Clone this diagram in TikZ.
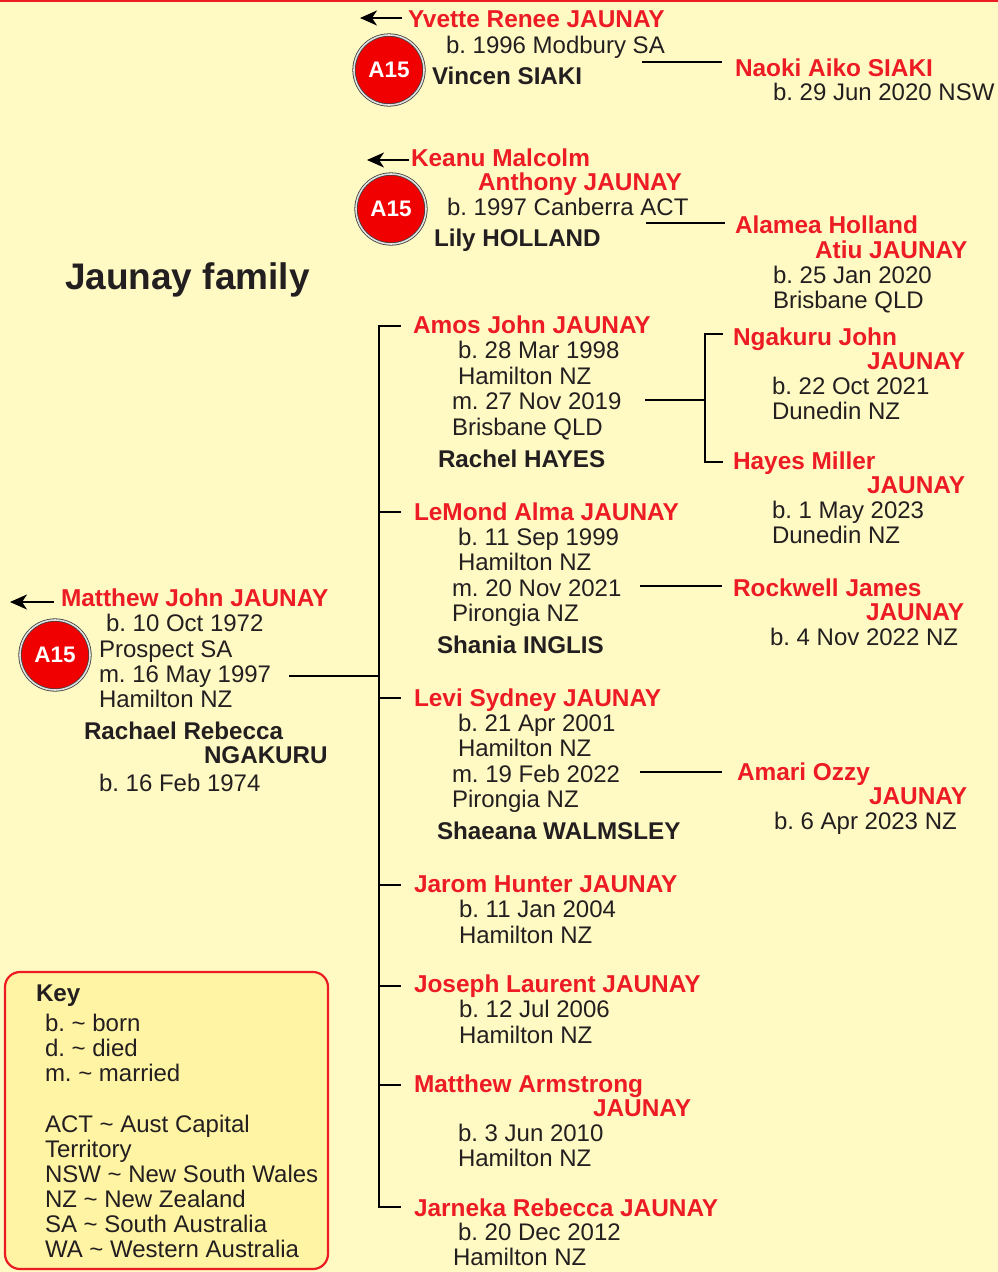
\documentclass[tikz,border=0pt]{standalone}
\usepackage{fontspec}
\setmainfont{Liberation Sans}
\usetikzlibrary{arrows.meta}
\definecolor{bgyel}{HTML}{FFFAC3}
\definecolor{keyfill}{HTML}{FFF4A3}
\definecolor{jred}{HTML}{ED1C24}
\definecolor{ink}{HTML}{231F20}
\definecolor{ballred}{HTML}{F00000}
\frenchspacing
\tikzset{
  base/.style={anchor=base west, inner sep=0pt, outer sep=0pt},
  tx/.style={base, text=ink, font=\fontsize{24}{25}\selectfont},
  nm/.style={base, text=jred, font=\fontsize{24.4}{25}\selectfont\bfseries},
  sp/.style={base, text=ink, font=\fontsize{24.2}{25}\selectfont\bfseries},
  conn/.style={draw=black, line width=2.4pt},
  backarrow/.style={draw=black, line width=2.2pt, -{Stealth[length=17pt,width=15pt,inset=5pt]}},
  ball/.style={circle, fill=ballred, draw=black!75, line width=0.8pt, double=gray!25, double distance=1.6pt,
    minimum size=70pt, inner sep=0pt, text=white, font=\fontsize{22.5}{22}\selectfont\bfseries},
}
\begin{document}
\begin{tikzpicture}[x=1pt,y=-1pt]
\useasboundingbox (0,0) rectangle (998,1272);
\fill[bgyel] (0,0) rectangle (998,1272);
\fill[jred] (0,0) rectangle (998,2.2);

% ---------- Yvette ----------
\coordinate (yarrS) at (402,18);
\coordinate (yarrE) at (360,18);
\draw[backarrow] (yarrS) -- (yarrE);
\node[ball] (yball) at (389,70) {A15};
\node[nm] (yv1) at (408,27) {Yvette Renee JAUNAY};
\node[tx] (yv2) at (446,53) {b. 1996 Modbury SA};
\node[sp] (yv3) at (432,84) {Vincen SIAKI};
\coordinate (ylineS) at (642,62);
\coordinate (ylineE) at (722,62);
\draw[conn] (ylineS) -- (ylineE);
\node[nm] (na1) at (735,76) {Naoki Aiko SIAKI};
\node[tx] (na2) at (773,100) {b. 29 Jun 2020 NSW};

% ---------- Keanu ----------
\coordinate (karrS) at (409,160);
\coordinate (karrE) at (367,160);
\draw[backarrow] (karrS) -- (karrE);
\node[ball] (kball) at (391,209) {A15};
\node[nm] (ke1) at (411,166) {Keanu Malcolm};
\node[nm] (ke2) at (478,190) {Anthony JAUNAY};
\node[tx] (ke3) at (447,215) {b. 1997 Canberra ACT};
\node[sp] (ke4) at (434,246) {Lily HOLLAND};
\coordinate (klineS) at (646,223);
\coordinate (klineE) at (725,223);
\draw[conn] (klineS) -- (klineE);
\node[nm] (al1) at (735,233) {Alamea Holland};
\node[nm] (al2) at (815,258) {Atiu JAUNAY};
\node[tx] (al3) at (773,283) {b. 25 Jan 2020};
\node[tx] (al4) at (773,308) {Brisbane QLD};

% ---------- Title ----------
\node[base, text=ink, font=\fontsize{37}{38}\selectfont\bfseries] (title) at (65,289) {Jaunay family};

% ---------- Matthew John ----------
\coordinate (marrS) at (54,602);
\coordinate (marrE) at (10,602);
\draw[backarrow] (marrS) -- (marrE);
\node[ball] (mball) at (55,655) {A15};
\node[nm] (mj1) at (61,606) {Matthew John JAUNAY};
\node[tx] (mj2) at (106,631) {b. 10 Oct 1972};
\node[tx] (mj3) at (99,657) {Prospect SA};
\node[tx] (mj4) at (99,682) {m. 16 May 1997};
\node[tx] (mj5) at (99,707) {Hamilton NZ};
\node[sp] (rr1) at (84,739) {Rachael Rebecca};
\node[sp] (rr2) at (204,763) {NGAKURU};
\node[tx] (rr3) at (99,791) {b. 16 Feb 1974};
\coordinate (mlineS) at (289,676);
\coordinate (mlineE) at (379,676);
\draw[conn] (mlineS) -- (mlineE);

% ---------- children bracket ----------
\coordinate (brTop) at (401,326);
\coordinate (brBot) at (401,1207);
\draw[conn] (brTop) -| (379,1207) -- (brBot);
\foreach \yy in {512,698,885,986,1085} {
  \draw[conn] (379,\yy) -- (401,\yy);
}

% Amos
\node[nm] (am1) at (413,333) {Amos John JAUNAY};
\node[tx] (am2) at (458,358) {b. 28 Mar 1998};
\node[tx] (am3) at (458,384) {Hamilton NZ};
\node[tx] (am4) at (452,409) {m. 27 Nov 2019};
\node[tx] (am5) at (452,435) {Brisbane QLD};
\node[sp] (am6) at (438,467) {Rachel HAYES};
\coordinate (alineS) at (645,400);
\coordinate (alineE) at (705,400);
\draw[conn] (alineS) -- (alineE);
\coordinate (abTop) at (723,334);
\coordinate (abBot) at (723,462);
\draw[conn] (abTop) -| (705,462) -- (abBot);
\node[nm] (ng1) at (733,345) {Ngakuru John};
\node[nm] (ng2) at (867,369) {JAUNAY};
\node[tx] (ng3) at (772,394) {b. 22 Oct 2021};
\node[tx] (ng4) at (772,419) {Dunedin NZ};
\node[nm] (hm1) at (733,469) {Hayes Miller};
\node[nm] (hm2) at (867,493) {JAUNAY};
\node[tx] (hm3) at (772,518) {b. 1 May 2023};
\node[tx] (hm4) at (772,543) {Dunedin NZ};

% LeMond
\node[nm] (lm1) at (414,520) {LeMond Alma JAUNAY};
\node[tx] (lm2) at (458,545) {b. 11 Sep 1999};
\node[tx] (lm3) at (458,570) {Hamilton NZ};
\node[tx] (lm4) at (452,596) {m. 20 Nov 2021};
\node[tx] (lm5) at (452,621) {Pirongia NZ};
\node[sp] (lm6) at (437,653) {Shania INGLIS};
\coordinate (llineS) at (640,586);
\coordinate (llineE) at (722,586);
\draw[conn] (llineS) -- (llineE);
\node[nm] (rw1) at (733,596) {Rockwell James};
\node[nm] (rw2) at (866,620) {JAUNAY};
\node[tx] (rw3) at (770,645) {b. 4 Nov 2022 NZ};

% Levi
\node[nm] (lv1) at (414,706) {Levi Sydney JAUNAY};
\node[tx] (lv2) at (458,731) {b. 21 Apr 2001};
\node[tx] (lv3) at (458,756) {Hamilton NZ};
\node[tx] (lv4) at (452,782) {m. 19 Feb 2022};
\node[tx] (lv5) at (452,807) {Pirongia NZ};
\node[sp] (lv6) at (437,839) {Shaeana WALMSLEY};
\coordinate (vlineS) at (640,772);
\coordinate (vlineE) at (722,772);
\draw[conn] (vlineS) -- (vlineE);
\node[nm] (ao1) at (737,780) {Amari Ozzy};
\node[nm] (ao2) at (869,804) {JAUNAY};
\node[tx] (ao3) at (774,829) {b. 6 Apr 2023 NZ};

% Jarom
\node[nm] (jh1) at (414,892) {Jarom Hunter JAUNAY};
\node[tx] (jh2) at (459,917) {b. 11 Jan 2004};
\node[tx] (jh3) at (459,943) {Hamilton NZ};

% Joseph
\node[nm] (jl1) at (414,992) {Joseph Laurent JAUNAY};
\node[tx] (jl2) at (459,1017) {b. 12 Jul 2006};
\node[tx] (jl3) at (459,1043) {Hamilton NZ};

% Matthew Armstrong
\node[nm] (ma1) at (414,1092) {Matthew Armstrong};
\node[nm] (ma2) at (593,1116) {JAUNAY};
\node[tx] (ma3) at (458,1141) {b. 3 Jun 2010};
\node[tx] (ma4) at (458,1166) {Hamilton NZ};

% Jarneka
\node[nm] (jr1) at (414,1216) {Jarneka Rebecca JAUNAY};
\node[tx] (jr2) at (458,1240) {b. 20 Dec 2012};
\node[tx] (jr3) at (453,1265) {Hamilton NZ};

% ---------- Key ----------
\draw[jred, line width=2.2pt, fill=keyfill, rounded corners=15pt] (5,972) rectangle (328,1269);
\node[sp] (key0) at (36,1001) {Key};
\node[tx] (key1) at (45,1031) {b. \textasciitilde{} born};
\node[tx] (key2) at (45,1056) {d. \textasciitilde{} died};
\node[tx] (key3) at (45,1081) {m. \textasciitilde{} married};
\node[tx] (key4) at (45,1132) {ACT \textasciitilde{} Aust Capital};
\node[tx] (key5) at (45,1157) {Territory};
\node[tx] (key6) at (45,1182) {NSW \textasciitilde{} New South Wales};
\node[tx] (key7) at (45,1207) {NZ \textasciitilde{} New Zealand};
\node[tx] (key8) at (45,1232) {SA \textasciitilde{} South Australia};
\node[tx] (key9) at (45,1257) {WA \textasciitilde{} Western Australia};
\end{tikzpicture}
\end{document}
